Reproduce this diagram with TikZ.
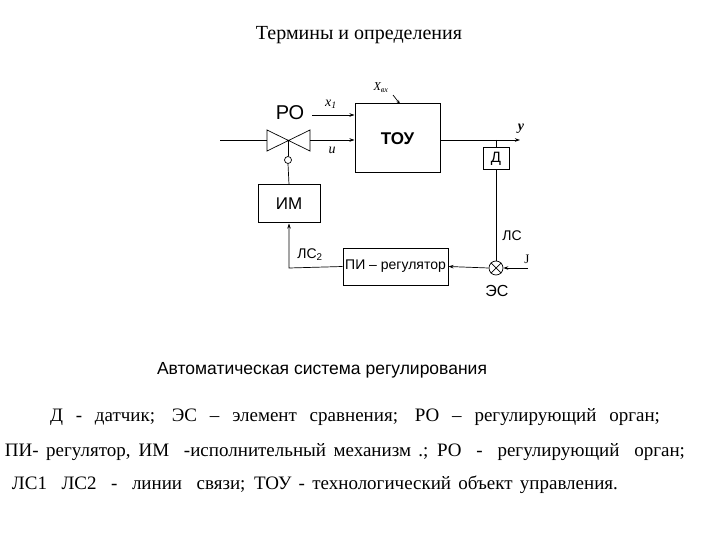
\documentclass[tikz,border=0pt]{standalone}
\usepackage{fontspec}
\setmainfont{Liberation Serif}
\newfontfamily\sans{Liberation Sans}
\usetikzlibrary{arrows.meta}
\begin{document}
\begin{tikzpicture}[x=1pt,y=-1pt,
  blk/.style={draw,line width=1pt,inner sep=0pt},
  ln/.style={line width=0.7pt},
  arr/.style={ln,-{Stealth[length=5pt,width=3.5pt]}},
  lab/.style={font=\sans\fontsize{14}{16}\selectfont},
  bot/.style={font=\fontsize{19}{22}\selectfont}]
\useasboundingbox (0,0) rectangle (720,540);
\node (title) at (359,35) {\fontsize{20}{22}\selectfont Термины и определения};
\node[blk,minimum width=85pt,minimum height=69pt] (tou) at (397.5,138.5) {\sans\bfseries\fontsize{17}{19}\selectfont ТОУ};
\node[blk,minimum width=26pt,minimum height=22pt] (d) at (496,159) {\sans\fontsize{15}{17}\selectfont Д};
\node[blk,minimum width=62pt,minimum height=38pt] (im) at (289,204) {\sans\fontsize{17}{19}\selectfont ИМ};
\node[blk,minimum width=105pt,minimum height=37pt] (pi) at (395.5,266.5) {\sans\fontsize{14}{16}\selectfont ПИ – регулятор};
\node[draw,circle,ln,minimum size=14pt,inner sep=0pt] (es) at (496,268) {};
\draw[ln] (es.north west)--(es.south east) (es.north east)--(es.south west);
\node[draw,circle,ln,minimum size=7pt,inner sep=0pt] (c) at (288,160) {};
\coordinate (v) at (288,140);
\draw[ln] (267,130)--(267,151)--(310,130)--(310,151)--cycle;
\draw[ln] (v)--(c);
\coordinate (in) at (220,140);
\draw[ln] (in)--(267,140);
\coordinate (vo) at (310,140);
\draw[arr] (vo)--(tou.west|-vo);
\coordinate (x1s) at (312,115);
\draw[arr] (x1s)--(tou.west|-x1s);
\node[lab] at (290,113) {\fontsize{20}{22}\selectfont РО};
\node at (331,104) {\itshape\fontsize{14}{16}\selectfont x\textsubscript{1}};
\node at (332,150) {\itshape\fontsize{14}{16}\selectfont u};
\node at (381,88) {\itshape\fontsize{12}{14}\selectfont X\textsubscript{вх}};
\coordinate (xb) at (393,95);
\draw[ln,-{Stealth[length=4pt]}] (xb)--(400,104);
\coordinate (yo) at (520,140);
\draw[arr] (tou.east|-yo)--(yo);
\node at (521,129) {\itshape\bfseries\fontsize{14}{16}\selectfont y};
\coordinate (dt) at (496,140);
\draw[ln] (dt)--(d.north);
\draw[ln] (d.south)--(es.north);
\node[lab] at (512,236) {ЛС};
\node[lab] at (497,291) {\fontsize{16}{18}\selectfont ЭС};
\coordinate (j) at (528,268);
\draw[arr] (j)--(es.east);
\node at (527,259) {\fontsize{13}{15}\selectfont J};
\draw[arr] (es.west)--(pi.east);
\coordinate (bend) at (289,268);
\draw[arr] (pi.west)--(bend)--(im.south);
\node[lab] at (310,255) {ЛС\textsubscript{2}};
\draw[ln] (im.north)--(c.south);
\node at (322,370) {\sans\fontsize{17.5}{20}\selectfont Автоматическая система регулирования};
\node[bot] at (355,417) {\makebox[610pt][s]{Д - датчик; ЭС -- элемент сравнения; РО -- регулирующий орган;}};
\node[bot] at (345,452) {\makebox[680pt][s]{ПИ- регулятор, ИМ \ -исполнительный механизм .; РО \ - \ регулирующий \ орган;}};
\node[bot] at (315,485) {\makebox[606pt][s]{ЛС1 \ ЛС2 \ - \ линии \ связи; ТОУ - технологический объект управления.}};
\end{tikzpicture}
\end{document}
